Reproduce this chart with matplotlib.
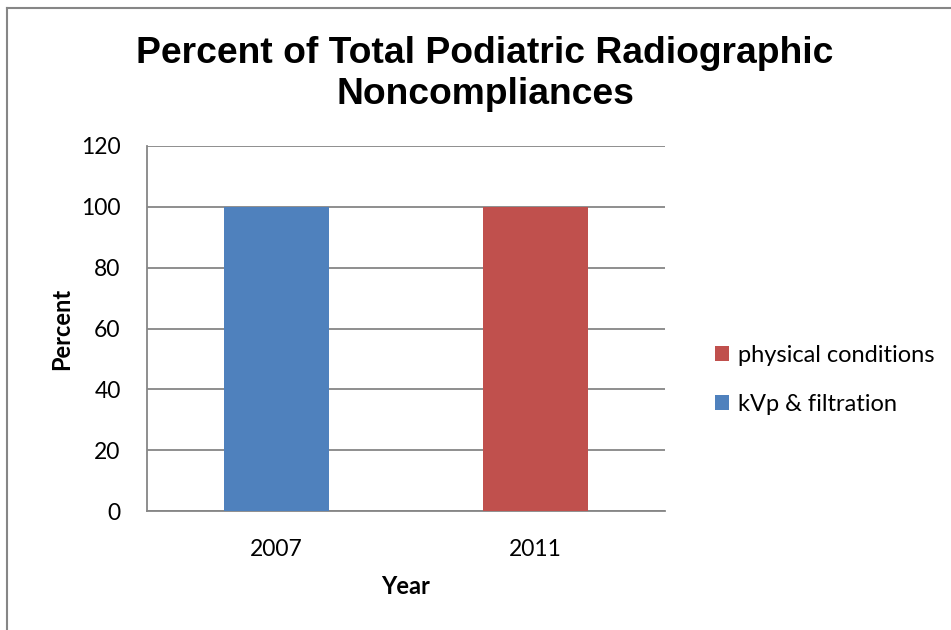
import matplotlib
matplotlib.use("Agg")
import matplotlib.pyplot as plt
from matplotlib.lines import Line2D
from matplotlib.patches import Patch

years = ["2007", "2011"]
kvp_filtration = [100, 0]
physical_conditions = [0, 100]
yticks = [0, 20, 40, 60, 80, 100, 120]

BLUE = "#4F81BD"
RED = "#C0504D"
GRID = "#868686"
TXT = "Lato"

fig = plt.figure(figsize=(9.51, 6.30), dpi=100)
ax = fig.add_axes([147/951, 1-511/630, (665-147)/951, (511-146)/630])

x = list(range(len(years)))
w = 0.405
ax.bar(x, kvp_filtration, width=w, color=BLUE, label="kVp & filtration", zorder=3)
ax.bar(x, physical_conditions, width=w, bottom=kvp_filtration, color=RED,
       label="physical conditions", zorder=3)

ax.set_xlim(-0.5, 1.5)
ax.set_ylim(0, 120)
ax.set_yticks(yticks)
ax.set_xticks(x)
ax.set_xticklabels(years, fontsize=16.5, family=TXT)
ax.set_yticklabels([str(v) for v in yticks], fontsize=16.5, family=TXT)
ax.tick_params(length=0)
ax.tick_params(axis="y", pad=19)
ax.tick_params(axis="x", pad=20)
ax.yaxis.grid(True, color=GRID, linewidth=1.3, zorder=0)
for s in ["top", "right"]:
    ax.spines[s].set_visible(False)
for s in ["left", "bottom"]:
    ax.spines[s].set_color(GRID)
    ax.spines[s].set_linewidth(1.3)

ax.set_ylabel("Percent", fontsize=17, fontweight="bold", family=TXT, labelpad=6)
ax.set_xlabel("Year", fontsize=17, fontweight="bold", family=TXT, labelpad=11)

fig.text(485/951, 1-74/630, "Percent of Total Podiatric Radiographic\nNoncompliances",
         ha="center", va="center", fontsize=26.8, fontweight="bold",
         family="Liberation Sans", linespacing=1.25)

handles = [Patch(facecolor=RED, edgecolor="none"), Patch(facecolor=BLUE, edgecolor="none")]
fig.legend(handles, ["physical conditions", "kVp & filtration"],
           loc="center left", bbox_to_anchor=(696/951, 1-380/630),
           frameon=False, prop={"family": TXT, "size": 17},
           handlelength=0.6, handleheight=0.6, handletextpad=0.4, labelspacing=1.2,
           borderpad=0.3)

# outer chart border (left and top)
fig.add_artist(Line2D([6.5/951, 6.5/951], [0, 1-7.5/630], transform=fig.transFigure,
                      color=GRID, linewidth=1.5))
fig.add_artist(Line2D([6.5/951, 1], [1-7.5/630, 1-7.5/630], transform=fig.transFigure,
                      color=GRID, linewidth=1.5))

fig.savefig("out.png", dpi=100)
